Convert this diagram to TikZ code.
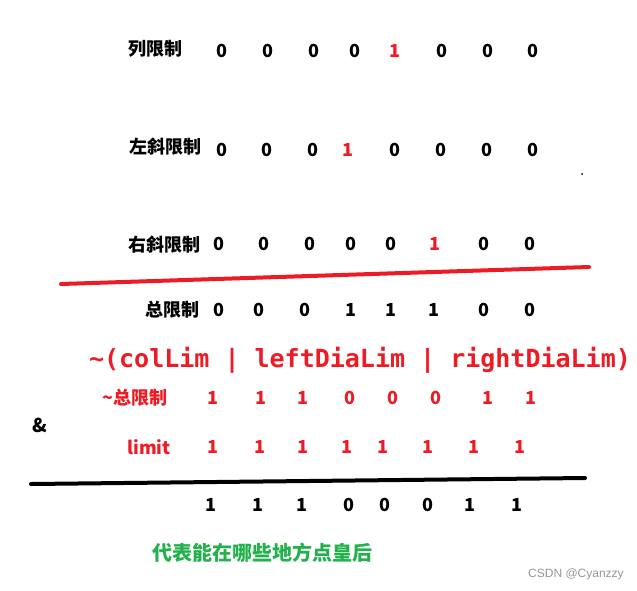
\documentclass[tikz,border=0pt]{standalone}
\usepackage{fontspec}
\setmainfont{Noto Sans CJK SC}
\newfontfamily\monofont{DejaVu Sans Mono}
\newfontfamily\wmfont{Liberation Sans}
\definecolor{pred}{RGB}{237,28,36}
\definecolor{pgreen}{RGB}{34,177,76}
\definecolor{wgray}{RGB}{150,150,150}
\tikzset{
  lab/.style={inner sep=0pt, font=\fontsize{18}{18}\selectfont\bfseries},
  dig/.style={inner sep=0pt, font=\fontsize{18}{18}\selectfont\bfseries},
  rdig/.style={dig, text=pred},
  rlab/.style={lab, text=pred},
  redline/.style={draw=pred, line width=4pt, line cap=round},
  blackline/.style={draw=black, line width=4pt, line cap=round},
}
\begin{document}
\begin{tikzpicture}[x=1pt,y=-1pt]
\useasboundingbox (0,0) rectangle (637,590);
% row 1
\node[lab] (l1) at (155,49) {列限制};
\foreach \x/\v/\s [count=\i] in {222/0/dig,268/0/dig,314/0/dig,355/0/dig,395/1/rdig,442/0/dig,488/0/dig,533/0/dig}
  \node[\s] (a\i) at (\x,51) {\v};
% row 2
\node[lab] (l2) at (165,147) {左斜限制};
\foreach \x/\v/\s [count=\i] in {222/0/dig,267/0/dig,313/0/dig,348/1/rdig,395/0/dig,441/0/dig,487/0/dig,533/0/dig}
  \node[\s] (b\i) at (\x,150) {\v};
\node[circle, fill=black, inner sep=0pt, minimum size=2pt] (dot) at (582,174) {};
% row 3
\node[lab] (l3) at (164,245) {右斜限制};
\foreach \x/\v/\s [count=\i] in {219/0/dig,264/0/dig,310/0/dig,351/0/dig,391/0/dig,435/1/rdig,484/0/dig,530/0/dig}
  \node[\s] (c\i) at (\x,244) {\v};
% red line
\coordinate (r1) at (61,284);
\coordinate (r2) at (589,267);
\draw[redline] (r1) -- (r2);
% total
\node[lab] (l4) at (172,310) {总限制};
\foreach \x/\v [count=\i] in {219/0,259/0,305/0,351/1,391/1,434/1,484/0,530/0}
  \node[dig] (d\i) at (\x,310) {\v};
% expression
\node[inner sep=0pt, text=pred, font=\fontsize{25}{25}\selectfont\monofont\bfseries] (expr) at (360,360) {\char`\~(colLim | leftDiaLim | rightDiaLim)};
% negated
\node[rlab] (l5) at (135,398) {\char`\~总限制};
\foreach \x/\v [count=\i] in {213/1,261/1,303/1,350/0,393/0,436/0,488/1,531/1}
  \node[rdig] (e\i) at (\x,398) {\v};
\node[inner sep=0pt, font=\fontsize{19}{19}\selectfont\bfseries] (amp) at (40,425) {\&};
\node[rlab] (l6) at (149,447) {limit};
\foreach \x/\v [count=\i] in {213/1,260/1,303/1,347/1,383/1,428/1,474/1,520/1}
  \node[rdig] (f\i) at (\x,447) {\v};
% black line
\coordinate (k1) at (31,484);
\coordinate (k2) at (585,478);
\draw[blackline] (k1) -- (k2);
% result
\foreach \x/\v [count=\i] in {211/1,258/1,302/1,349/0,385/0,428/0,470/1,517/1}
  \node[dig] (g\i) at (\x,505) {\v};
\node[inner sep=0pt, text=pgreen, font=\fontsize{20}{20}\selectfont\bfseries] (note) at (262,553) {代表能在哪些地方点皇后};
\node[inner sep=0pt, text=wgray, font=\fontsize{12}{12}\selectfont\wmfont] (wm) at (576,574) {CSDN @Cyanzzy};
\end{tikzpicture}
\end{document}
